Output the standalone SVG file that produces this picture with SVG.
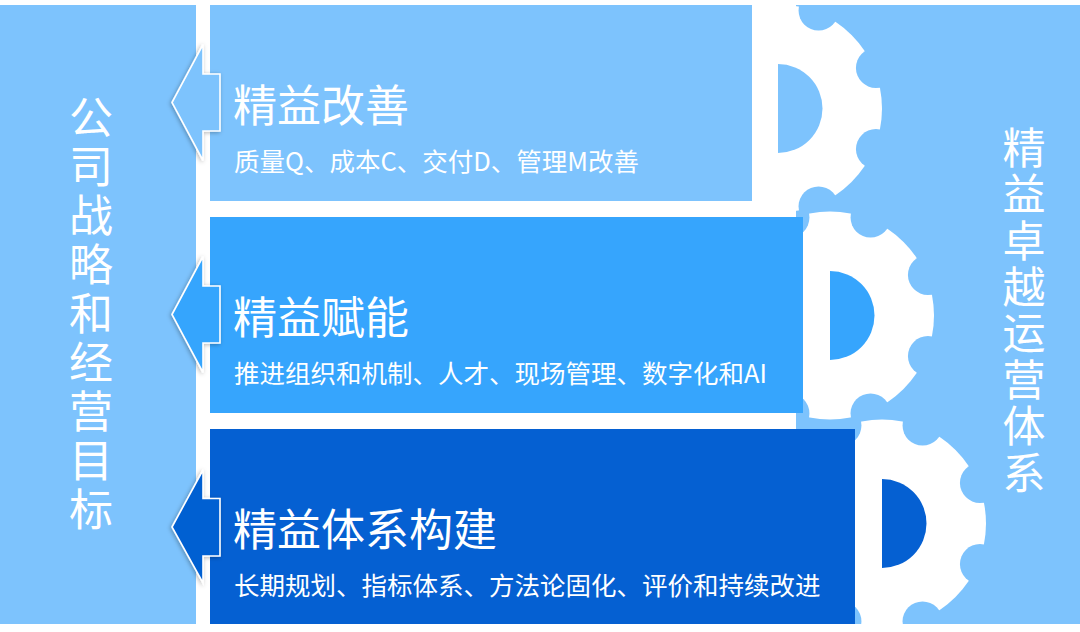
<svg xmlns="http://www.w3.org/2000/svg" width="1080" height="632" viewBox="0 0 1080 632">
  <style>
    .light { fill: #7DC3FD; }
    .mid { fill: #36A5FD; }
    .dark { fill: #0560D2; }
    .t { font-family: "Noto Sans CJK SC", "Noto Sans", sans-serif; fill: #FFFFFF; }
    .h { font-size: 44px; }
    .s { font-size: 25.5px; }
    .v { writing-mode: vertical-rl; text-orientation: upright; }
    .arrow { stroke: #FFFFFF; stroke-width: 1.6; stroke-linejoin: miter; filter: url(#sh); }
    .gear { fill: #FFFFFF; }
  </style>
  <defs>
    <filter id="sh" x="-30%" y="-30%" width="160%" height="160%">
      <feDropShadow dx="-1" dy="1" stdDeviation="2" flood-color="#000000" flood-opacity="0.3"/>
    </filter>
    <mask id="gm" maskUnits="userSpaceOnUse" x="-120" y="-120" width="240" height="240">
      <circle cx="0" cy="0" r="104" fill="#FFFFFF"/>
      <g fill="#000000">
        <circle cx="97.93" cy="40.56" r="20"/>
        <circle cx="40.56" cy="97.93" r="20"/>
        <circle cx="-40.56" cy="97.93" r="20"/>
        <circle cx="-97.93" cy="40.56" r="20"/>
        <circle cx="-97.93" cy="-40.56" r="20"/>
        <circle cx="-40.56" cy="-97.93" r="20"/>
        <circle cx="40.56" cy="-97.93" r="20"/>
        <circle cx="97.93" cy="-40.56" r="20"/>
      </g>
    </mask>
  </defs>

  <rect x="0" y="0" width="1080" height="632" fill="#FFFFFF"/>

  <g id="left-panel">
    <rect class="light" x="0" y="5" width="196" height="619"/>
    <text class="t v" x="91" y="95" style="font-size:44px; letter-spacing:5px">公司战略和经营目标</text>
  </g>

  <g id="right-panel">
    <rect class="light" x="796" y="5" width="284" height="619"/>
    <text class="t v" x="1024" y="126" style="font-size:43px; letter-spacing:3.4px">精益卓越运营体系</text>
  </g>

  <g id="gears">
    <g id="gear-1" transform="translate(778,108.5)">
      <rect class="gear" x="-110" y="-110" width="220" height="220" mask="url(#gm)"/>
      <path class="light" d="M0,-44.5 A44.5,44.5 0 0 1 0,44.5 Z"/>
    </g>
    <g id="gear-2" transform="translate(830,315.5)">
      <rect class="gear" x="-110" y="-110" width="220" height="220" mask="url(#gm)"/>
      <path class="mid" d="M0,-44.5 A44.5,44.5 0 0 1 0,44.5 Z"/>
    </g>
    <g id="gear-3" transform="translate(882,523.5)">
      <rect class="gear" x="-110" y="-110" width="220" height="220" mask="url(#gm)"/>
      <path class="dark" d="M0,-44.5 A44.5,44.5 0 0 1 0,44.5 Z"/>
    </g>
  </g>

  <g id="box-1">
    <rect class="light" x="210" y="5" width="542" height="196"/>
    <text class="t h" x="233" y="122">精益改善</text>
    <text class="t s" x="234" y="171">质量Q、成本C、交付D、管理M改善</text>
  </g>

  <g id="box-2">
    <rect class="mid" x="210" y="217" width="593" height="196"/>
    <text class="t h" x="233" y="334">精益赋能</text>
    <text class="t s" x="234" y="383">推进组织和机制、人才、现场管理、数字化和AI</text>
  </g>

  <g id="box-3">
    <rect class="dark" x="210" y="429" width="645" height="195"/>
    <text class="t h" x="233" y="546">精益体系构建</text>
    <text class="t s" x="234" y="595">长期规划、指标体系、方法论固化、评价和持续改进</text>
  </g>

  <g id="connectors">
    <path class="arrow light" d="M172,102.5 L203,44.5 L203,74 L220,74 L220,131 L203,131 L203,160.5 Z"/>
    <path class="arrow mid" d="M172,314.5 L203,256.5 L203,286 L220,286 L220,343 L203,343 L203,372.5 Z"/>
    <path class="arrow dark" d="M172,527 L203,470 L203,498.5 L220,498.5 L220,556 L203,556 L203,583 Z"/>
  </g>
</svg>
